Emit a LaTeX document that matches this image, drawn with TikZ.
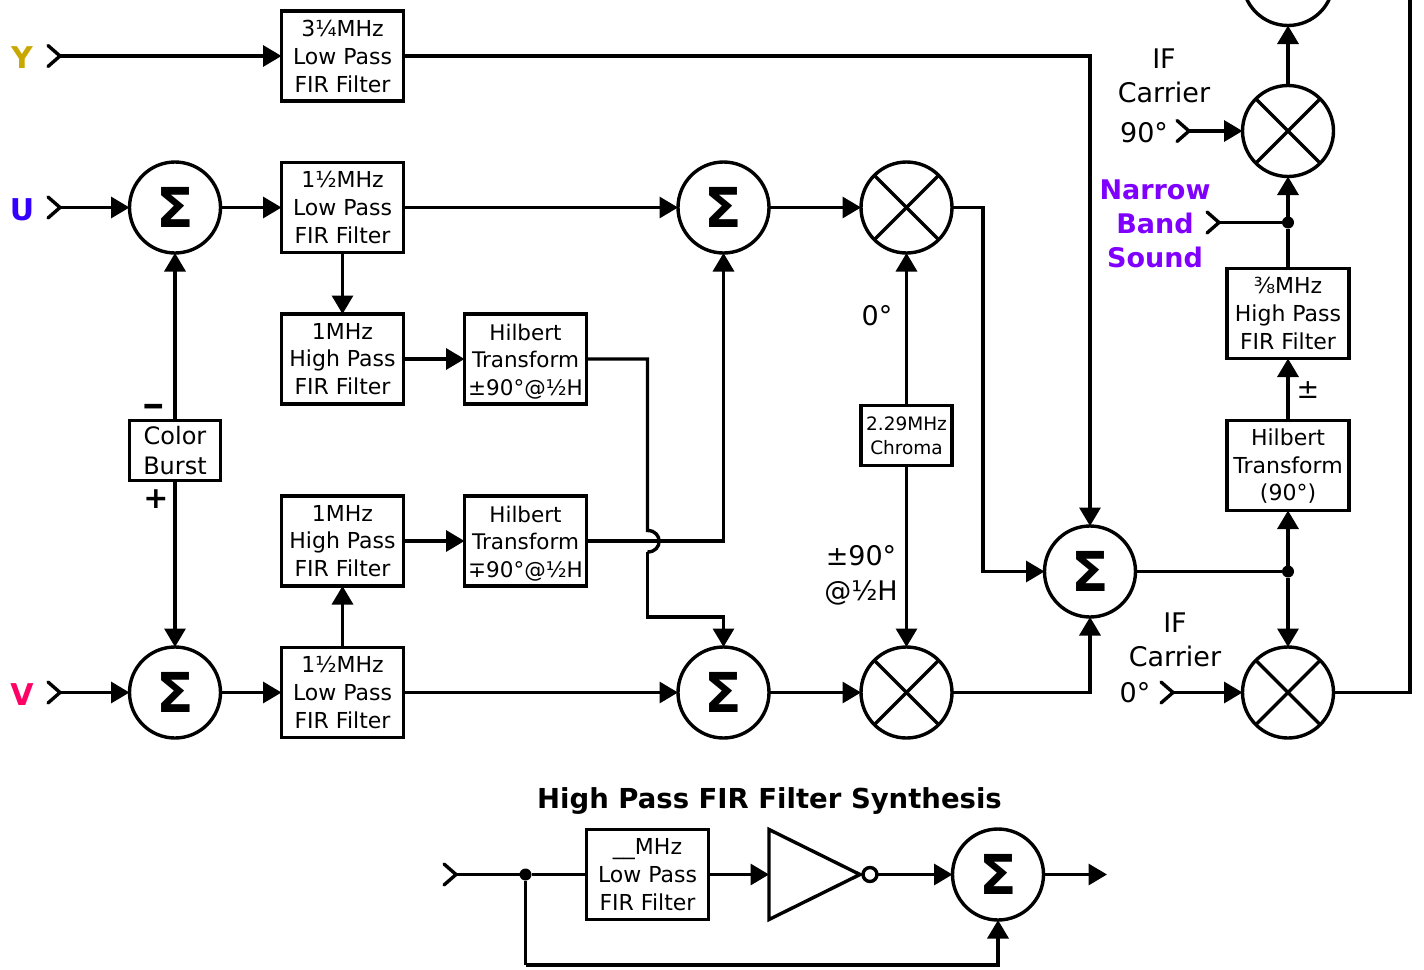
\documentclass[tikz,border=0pt]{standalone}
\usepackage{fontspec}
\usepackage{graphicx}
\setmainfont{DejaVu Sans}
\usetikzlibrary{arrows.meta}
\definecolor{ycol}{HTML}{C8A800}
\definecolor{ucol}{HTML}{3300FF}
\definecolor{vcol}{HTML}{FF0066}
\definecolor{sndcol}{HTML}{8000FF}
\tikzset{
  wire/.style={line width=3.4pt,line join=miter,black},
  arr/.style={wire,-{Triangle[length=18.5pt,width=21pt]}},
  box/.style={draw,line width=3.4pt,inner sep=0pt,outer sep=0pt,minimum width=122pt,minimum height=90pt,align=center,font=\fontsize{22}{28}\selectfont},
  hilbert/.style={box,font=\fontsize{21.5}{27.3}\selectfont},
  smallbox/.style={box,minimum width=91pt,minimum height=60pt},
  sumnode/.style={circle,draw,line width=3.4pt,inner sep=0pt,outer sep=0pt,minimum size=91pt,font=\fontsize{55}{55}\selectfont\bfseries},
  mixnode/.style={circle,draw,line width=3.4pt,inner sep=0pt,outer sep=0pt,minimum size=91pt,path picture={
    \draw[line width=3.4pt] (path picture bounding box.north west) -- (path picture bounding box.south east);
    \draw[line width=3.4pt] (path picture bounding box.north east) -- (path picture bounding box.south west);}},
  dotnode/.style={circle,fill=black,inner sep=0pt,outer sep=0pt,minimum size=12pt},
  bubble/.style={circle,draw,fill=white,line width=3.4pt,inner sep=0pt,outer sep=0pt,minimum size=14pt},
  lbl/.style={inner sep=0pt,align=center,font=\fontsize{27}{36}\selectfont},
  sndlbl/.style={inner sep=0pt,align=center,text=sndcol,font=\fontsize{27}{34}\selectfont\bfseries},
  inlbl/.style={inner sep=0pt,font=\fontsize{30}{30}\selectfont\bfseries},
  chevron/.pic={\draw[wire,line cap=round] (-12,-10.5) -- (0,0) -- (-12,10.5);},
}
\newcommand{\hstrut}{\rule{0pt}{21.5pt}}
\begin{document}
\begin{tikzpicture}[x=1pt,y=-1pt]
\useasboundingbox (0,0) rectangle (1424,969);
\clip (0,0) rectangle (1424,969);
% boxes
\node[box] (fy) at (342.5,56) {3¼MHz\\Low Pass\\FIR Filter};
\node[box] (fu) at (342.5,207.5) {1½MHz\\Low Pass\\FIR Filter};
\node[box] (hpa) at (342.5,359) {\raisebox{-.5pt}{1MHz}\\High Pass\\FIR Filter};
\node[hilbert] (hia) at (525.5,359) {\hstrut Hilbert\\Transform\\±90°@½H};
\node[box] (hpb) at (342.5,541) {\raisebox{-.5pt}{1MHz}\\High Pass\\FIR Filter};
\node[hilbert] (hib) at (525.5,541) {\hstrut Hilbert\\Transform\\∓90°@½H};
\node[box] (fv) at (342.5,692.5) {1½MHz\\Low Pass\\FIR Filter};
\node[box] (hpc) at (1288,313.5) {⅜MHz\\High Pass\\FIR Filter};
\node[hilbert,font=\fontsize{22}{27.5}\selectfont] (hic) at (1288,465.5) {\rule{0pt}{18.5pt}Hilbert\\Transform\\(90°)};
\node[box] (lp) at (647.5,874.5) {\_\_MHz\\Low Pass\\FIR Filter};
\node[smallbox,font=\fontsize{24}{30}\selectfont] (burst) at (175,450.5) {Color\\Burst};
\node[smallbox,font=\fontsize{18.5}{24}\selectfont] (chroma) at (906.5,435.5) {2.29MHz\\Chroma};
% circles
\node[sumnode] (su) at (175,207.5) {Σ};
\node[sumnode] (sv) at (175,692.5) {Σ};
\node[sumnode] (sa) at (723.5,207.5) {Σ};
\node[sumnode] (sb) at (723.5,692.5) {Σ};
\node[sumnode] (sc) at (1090,571.5) {Σ};
\node[sumnode] (sd) at (1288,-20) {};
\node[sumnode] (se) at (998,874.5) {Σ};
\node[mixnode] (ma) at (906.5,207.5) {};
\node[mixnode] (mb) at (906.5,692.5) {};
\node[mixnode] (mc) at (1288,692.5) {};
\node[mixnode] (md) at (1288,131) {};
% dots
\node[dotnode] (j1) at (1288,571.5) {};
\node[dotnode] (j2) at (1288,222.5) {};
\node[dotnode] (j3) at (525.5,874.5) {};
% inputs
\coordinate (iy) at (60,56);
\coordinate (iu) at (60,207.5);
\coordinate (iv) at (60,692.5);
\coordinate (ic90) at (1189,131);
\coordinate (ic0) at (1173,692.5);
\coordinate (isnd) at (1219,222.5);
\coordinate (ihp) at (456,874.5);
\pic at (iy) {chevron};
\pic at (iu) {chevron};
\pic at (iv) {chevron};
\pic at (ic90) {chevron};
\pic at (ic0) {chevron};
\pic at (isnd) {chevron};
\pic at (ihp) {chevron};
% helper corners
\coordinate (ca) at (983,207.5);
\coordinate (cb) at (647.5,359);
\coordinate (cc) at (647.5,530.5);
\coordinate (cd) at (647.5,552);
\coordinate (ce) at (647.5,617);
\coordinate (cf) at (1410,692.5);
\coordinate (cg) at (1410,-5);
\coordinate (ch) at (525.5,965);
\coordinate (ci) at (1107,874.5);
% inverter
\coordinate (invw) at (769,874.5);
\coordinate (invt) at (860,874.5);
\draw[wire,line join=miter] (769,829.5) -- (invt) -- (769,919.5) -- cycle;
\node[bubble] (bub) at (870,874.5) {};
% connectors
\draw[arr] (iy) -- (fy);
\draw[arr] (fy) -| (sc);
\draw[arr] (iu) -- (su);
\draw[arr] (su) -- (fu);
\draw[arr] (fu) -- (sa);
\draw[arr] (sa) -- (ma);
\draw[arr] (ma) -- (ca) |- (sc);
\draw[arr] (fu) -- (hpa);
\draw[arr] (hpa) -- (hia);
\draw[wire] (hia) -- (cb) -- (cc) .. controls (663,530.5) and (663,552) .. (cd);
\draw[arr] (cd) -- (ce) -| (sb);
\draw[arr] (hpb) -- (hib);
\draw[arr] (hib) -| (sa);
\draw[arr] (fv) -- (hpb);
\draw[arr] (iv) -- (sv);
\draw[arr] (sv) -- (fv);
\draw[arr] (fv) -- (sb);
\draw[arr] (sb) -- (mb);
\draw[arr] (mb) -| (sc);
\draw[arr] (burst) -- (su);
\draw[arr] (burst) -- (sv);
\draw[arr] (chroma) -- (ma);
\draw[arr] (chroma) -- (mb);
\draw[wire] (sc) -- (j1);
\draw[arr] (j1) -- (hic);
\draw[arr] (j1) -- (mc);
\draw[arr] (hic) -- (hpc);
\draw[wire] (hpc) -- (j2);
\draw[arr] (j2) -- (md);
\draw[wire] (isnd) -- (j2);
\draw[arr] (md) -- (sd);
\draw[arr] (ic90) -- (md);
\draw[arr] (ic0) -- (mc);
\draw[wire] (mc) -- (cf) -- (cg);
\draw[wire] (ihp) -- (j3);
\draw[wire] (j3) -- (lp);
\draw[arr] (lp) -- (invw);
\draw[arr] (bub) -- (se);
\draw[arr] (se) -- (ci);
\draw[wire] (j3) -- (ch);
\draw[arr] (ch) -| (se);
% labels
\node[inlbl,text=ycol] (ly) at (22,58) {Y};
\node[inlbl,text=ucol] (lu) at (22,209.5) {U};
\node[inlbl,text=vcol] (lv) at (22,694.5) {V};
\node[lbl] (t90) at (1164,76) {IF\\[-2pt]Carrier};
\node[lbl] (v90) at (1144,132.5) {90°};
\node[lbl] (t0) at (1175,640) {IF\\[-2pt]Carrier};
\node[lbl] (v0) at (1135,692.5) {0°};
\node[lbl] (deg0) at (877,316) {0°};
\node[lbl] (pm90) at (861,575) {±90°\\[-1pt]@½H};
\node[lbl] (pm) at (1308,390.5) {±};
\node[lbl,font=\fontsize{36}{36}\selectfont\bfseries] (minus) at (154,410.5) {\scalebox{1.25}[1]{–}};
\node[lbl,font=\fontsize{30}{30}\selectfont\bfseries] (plus) at (156,499.5) {+};
\node[sndlbl] (snd) at (1155,223.5) {Narrow\\Band\\Sound};
\node[inner sep=0pt,font=\fontsize{27.5}{30}\selectfont\bfseries] (title) at (769.5,801.5) {High Pass FIR Filter Synthesis};
\end{tikzpicture}
\end{document}
